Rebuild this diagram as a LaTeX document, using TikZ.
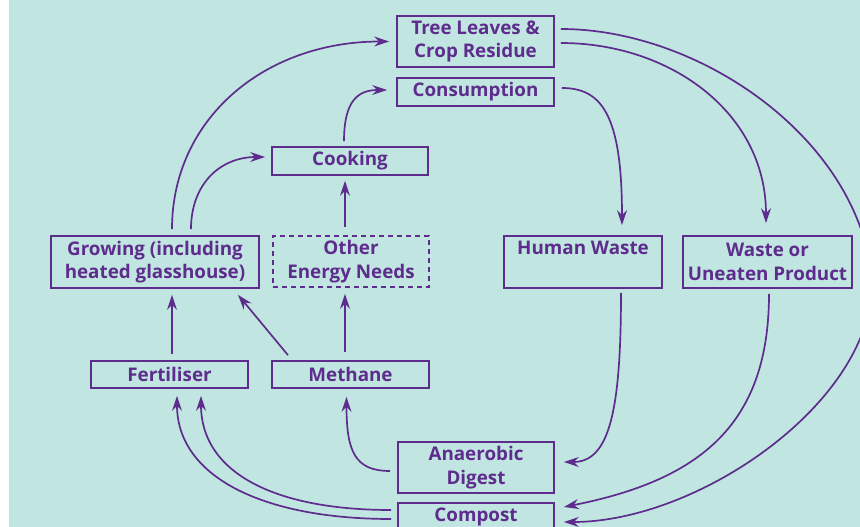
\documentclass[tikz,border=0pt]{standalone}
\usepackage{fontspec}
\setmainfont{Open Sans}
\usetikzlibrary{arrows.meta}
\definecolor{purp}{RGB}{94,44,140}
\definecolor{bgteal}{RGB}{193,230,226}
\tikzset{
  box/.style={draw=purp, line width=1.7pt, text=purp,
    font=\fontsize{18.8}{23.5}\selectfont\bfseries,
    align=center, inner sep=0pt},
  dbox/.style={box, dash pattern=on 5pt off 4pt},
  arr/.style={draw=purp, line width=1.7pt,
    -{Stealth[length=15pt,width=10pt,inset=5pt]}}
}
\begin{document}
\begin{tikzpicture}[x=1pt,y=-1pt]
\useasboundingbox (0,0) rectangle (860,527);
\clip (0,0) rectangle (860,527);
\fill[white] (0,0) rectangle (860,527);
\fill[bgteal] (9,0) rectangle (860,527);

% nodes
\node[box, minimum width=157pt, minimum height=51pt] (tree) at (475.5,41.5) {Tree Leaves \&\\Crop Residue};
\node[box, minimum width=157pt, minimum height=28pt] (cons) at (475.5,92) {Consumption};
\node[box, minimum width=156pt, minimum height=28pt] (cook) at (350,161) {Cooking};
\node[box, minimum width=208pt, minimum height=52pt] (grow) at (155,262) {Growing (including\\heated glasshouse)};
\node[dbox, minimum width=156pt, minimum height=51pt] (other) at (351,261.5) {Other\\Energy Needs};
\node[box, minimum width=157pt, minimum height=27pt] (fert) at (169.5,374.5) {Fertiliser};
\node[box, minimum width=157pt, minimum height=27pt] (meth) at (350.5,374.5) {Methane};
\node[box, minimum width=158pt, minimum height=52pt] (human) at (583,262) {Human Waste\\\phantom{Hg}};
\node[box, minimum width=169pt, minimum height=52pt] (waste) at (767.5,262) {Waste or\\Uneaten Product};
\node[box, minimum width=156pt, minimum height=51pt] (anaer) at (476,467.5) {Anaerobic\\Digest};
\node[box, minimum width=156pt, minimum height=28pt] (comp) at (476,517) {Compost};

% connectors
\draw[arr] ([xshift=17pt,yshift=6pt]grow.north) .. controls +(0,-110) and +(-125,0) .. ([xshift=-7pt]tree.west);
\draw[arr] ([xshift=36pt,yshift=6pt]grow.north) .. controls +(0,-45) and +(-45,0) .. ([xshift=-6pt,yshift=4pt]cook.west);
\draw[arr] ([xshift=-6pt,yshift=5pt]cook.north) .. controls +(0,-42) and +(-28,0) .. ([xshift=-9pt,yshift=2pt]cons.west);
\draw[arr] ([xshift=-6pt,yshift=8pt]other.north) -- ([xshift=-5pt,yshift=-5pt]cook.south);
\draw[arr] ([xshift=-5.5pt,yshift=8pt]meth.north) -- ([xshift=-6pt,yshift=-6pt]other.south);
\draw[arr] ([xshift=2.5pt,yshift=6pt]fert.north) -- ([xshift=17pt,yshift=-6pt]grow.south);
\draw[arr] ([xshift=-62.5pt,yshift=5pt]meth.north) -- ([xshift=83pt,yshift=-6pt]grow.south);
\draw[arr] ([xshift=-6pt,yshift=-2pt]comp.west) .. controls +(-130,0) and +(0,80) .. ([xshift=7.5pt,yshift=-7pt]fert.south);
\draw[arr] ([xshift=-6pt,yshift=7pt]comp.west) .. controls +(-120,0) and +(0,75) .. ([xshift=31.5pt,yshift=-7pt]fert.south);
\draw[arr] ([xshift=-7pt,yshift=-3.5pt]anaer.west) .. controls +(-35,0) and +(0,55) .. ([xshift=-4pt,yshift=-8pt]meth.south);
\draw[arr] ([xshift=7pt,yshift=4pt]cons.east) .. controls +(40,0) and +(0,-110) .. ([xshift=39pt,yshift=10pt]human.north);
\draw[arr] ([xshift=6pt,yshift=-1.5pt]tree.east) .. controls +(110,0) and +(0,-110) .. ([xshift=-1.5pt,yshift=12pt]waste.north);
\coordinate (far) at (872,280);
\draw[arr] ([xshift=6pt,yshift=12.5pt]tree.east) .. controls +(140,0) and (860,140) .. (far)
  .. controls (875,400) and (700,522) .. ([xshift=9pt,yshift=-5pt]comp.east);
\draw[arr] ([xshift=38pt,yshift=-4pt]human.south) .. controls +(0,120) and +(45,0) .. ([xshift=9pt,yshift=5.5pt]anaer.east);
\draw[arr] ([xshift=1.5pt,yshift=-5pt]waste.south) .. controls +(0,130) and +(137,-27) .. ([xshift=9pt,yshift=10pt]comp.east);
\end{tikzpicture}
\end{document}
